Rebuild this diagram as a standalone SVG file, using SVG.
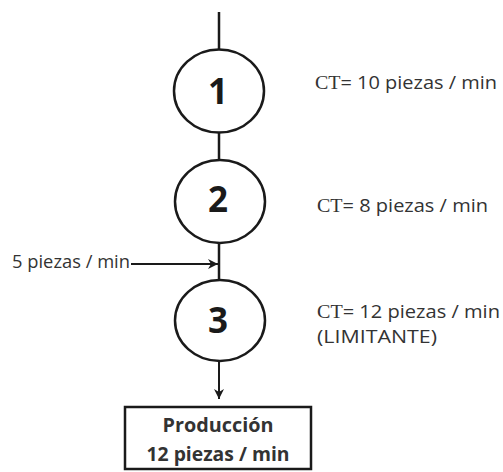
<svg xmlns="http://www.w3.org/2000/svg" width="503" height="472" viewBox="0 0 503 472">
  <defs>
    <marker id="arrow" viewBox="0 0 10 10" refX="10" refY="5" markerWidth="10" markerHeight="10" markerUnits="userSpaceOnUse" orient="auto">
      <path d="M0,0 L10,5 L0,10 L3,5 Z" fill="#1a1a1a"/>
    </marker>
    <style>
      .line { stroke: #1a1a1a; stroke-width: 2.5; fill: none; }
      .thin { stroke: #1a1a1a; stroke-width: 2; fill: none; }
      .station { fill: #ffffff; stroke: #1a1a1a; stroke-width: 2.5; }
      .num { font-family: "Open Sans", "Liberation Sans", sans-serif; font-weight: bold; font-size: 35px; fill: #1a1a1a; text-anchor: middle; }
      .label { font-family: "Open Sans", "Liberation Sans", sans-serif; font-size: 19px; fill: #333333; }
      .ct { font-family: "Liberation Serif", serif; }
      .box { fill: #ffffff; stroke: #1a1a1a; stroke-width: 2.5; }
      .boxtext { font-family: "Open Sans", "Liberation Sans", sans-serif; font-weight: bold; font-size: 19px; fill: #333333; text-anchor: middle; }
    </style>
  </defs>

  <g id="connectors">
    <line class="line" x1="219" y1="12" x2="219" y2="49"/>
    <line class="line" x1="219" y1="132" x2="219" y2="160"/>
    <line class="line" x1="219" y1="243" x2="219" y2="280"/>
    <line class="thin" x1="131" y1="264" x2="218" y2="264" marker-end="url(#arrow)"/>
    <line class="thin" x1="219" y1="361" x2="219" y2="399" marker-end="url(#arrow)"/>
  </g>

  <g id="station-1">
    <ellipse class="station" cx="219" cy="91" rx="45" ry="41.5"/>
    <text class="num" x="218" y="104">1</text>
  </g>
  <g id="station-2">
    <ellipse class="station" cx="220" cy="201.5" rx="45" ry="41.5"/>
    <text class="num" x="218" y="212">2</text>
  </g>
  <g id="station-3">
    <ellipse class="station" cx="220" cy="320.5" rx="45" ry="40.5"/>
    <text class="num" x="218" y="333">3</text>
  </g>

  <g id="input-label">
    <text class="label" x="12" y="268" font-size="17" textLength="118" lengthAdjust="spacingAndGlyphs">5 piezas / min</text>
  </g>

  <g id="ct-labels">
    <text class="label" x="315" y="89" textLength="182" lengthAdjust="spacingAndGlyphs"><tspan class="ct">CT</tspan>= 10 piezas / min</text>
    <text class="label" x="317" y="212" textLength="171" lengthAdjust="spacingAndGlyphs"><tspan class="ct">CT</tspan>= 8 piezas / min</text>
    <text class="label" x="317" y="318" textLength="183" lengthAdjust="spacingAndGlyphs"><tspan class="ct">CT</tspan>= 12 piezas / min</text>
    <text class="label" x="317" y="343" textLength="120" lengthAdjust="spacingAndGlyphs">(LIMITANTE)</text>
  </g>

  <g id="output">
    <rect class="box" x="125" y="407" width="186" height="62"/>
    <text class="boxtext" x="218" y="432" textLength="111" lengthAdjust="spacingAndGlyphs">Producción</text>
    <text class="boxtext" x="218" y="461" textLength="143" lengthAdjust="spacingAndGlyphs">12 piezas / min</text>
  </g>
</svg>
